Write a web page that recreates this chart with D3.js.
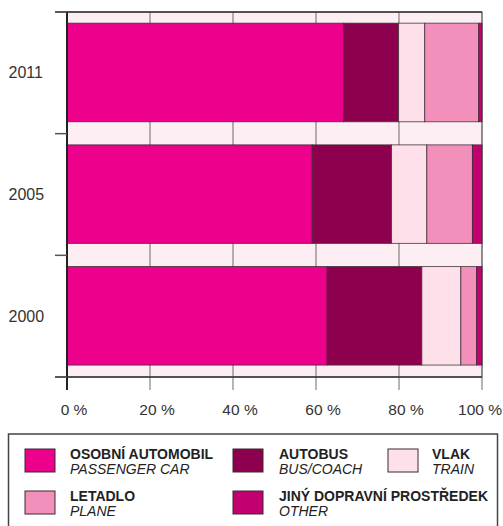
<!DOCTYPE html>
<html><head><meta charset="utf-8">
<script src="https://cdn.jsdelivr.net/npm/d3@7"></script>
<style>body{margin:0;background:#fff;}svg{display:block;font-family:"Liberation Sans",Arial,Helvetica,sans-serif;}</style>
</head><body>
<svg id="c" width="503" height="526"></svg>
<script>
const years = ["2011", "2005", "2000"];
const seriesKeys = ["car", "bus", "train", "plane", "other"];
const seriesCz = ["OSOBNÍ AUTOMOBIL", "AUTOBUS", "VLAK", "LETADLO", "JINÝ DOPRAVNÍ PROSTŘEDEK"];
const seriesEn = ["PASSENGER CAR", "BUS/COACH", "TRAIN", "PLANE", "OTHER"];
const car   = [66.7, 59.1, 62.7];
const bus   = [13.2, 19.1, 22.8];
const train = [6.3, 8.5, 9.4];
const plane = [13.0, 11.0, 3.8];
const other = [0.8, 2.3, 1.3];
const xTicks = [0, 20, 40, 60, 80, 100];
const xTickLabels = ["0 %", "20 %", "40 %", "60 %", "80 %", "100 %"];
const colors = ["#ec008c", "#8c004e", "#fde0ea", "#f290bb", "#c3006f"];

const rows = years.map((y, i) => ({year: y, car: car[i], bus: bus[i], train: train[i], plane: plane[i], other: other[i]}));
const stacked = d3.stack().keys(seriesKeys)(rows);

const svg = d3.select("#c");
const x = d3.scaleLinear().domain([0, 100]).range([67, 482]);
const y = d3.scaleBand().domain(years).range([12, 377]).padding(0);
const bw = y.bandwidth();

// background
svg.append("rect").attr("x", x(0)).attr("y", 12).attr("width", x(100) - x(0)).attr("height", 365)
  .attr("fill", "#fdeef4").attr("stroke", "#666").attr("stroke-width", 1);
// grid
svg.append("g").selectAll("line").data(xTicks).join("line")
  .attr("x1", d => x(d)).attr("x2", d => x(d)).attr("y1", 12).attr("y2", 390)
  .attr("stroke", "#6a6a6a").attr("stroke-width", 1);

// bars
svg.append("g").selectAll("g").data(stacked).join("g")
  .attr("fill", (d, i) => colors[i])
  .selectAll("rect").data(d => d).join("rect")
  .attr("x", d => x(d[0])).attr("width", d => x(d[1]) - x(d[0]))
  .attr("y", d => y(d.data.year) + bw * 0.092).attr("height", bw * 0.81)
  .attr("stroke", "#3a2a30").attr("stroke-opacity", 0.75).attr("stroke-width", 1);

// axes lines
svg.append("line").attr("x1", 55).attr("x2", 482).attr("y1", 12).attr("y2", 12).attr("stroke", "#333").attr("stroke-width", 1.5);
svg.append("line").attr("x1", 55).attr("x2", 482).attr("y1", 377).attr("y2", 377).attr("stroke", "#333").attr("stroke-width", 1.5);
svg.append("line").attr("x1", 67).attr("x2", 67).attr("y1", 12).attr("y2", 390).attr("stroke", "#222").attr("stroke-width", 2);
// left ticks at band boundaries
const bounds = years.map(d => y(d)).concat([y(years[years.length - 1]) + bw]);
svg.append("g").selectAll("line").data(bounds).join("line")
  .attr("x1", 55).attr("x2", 67).attr("y1", d => d).attr("y2", d => d)
  .attr("stroke", "#555").attr("stroke-width", 1.5);

// y labels
svg.append("g").selectAll("text").data(years).join("text")
  .attr("x", 8.5).attr("y", d => y(d) + bw / 2).attr("dy", "0.35em")
  .attr("font-size", 16).attr("fill", "#333").text(d => d);

// x labels
svg.append("g").selectAll("text").data(xTicks).join("text")
  .attr("x", (d, i) => Math.min(x(d) + 7, 480))
  .attr("y", 415).attr("text-anchor", "middle")
  .attr("font-size", 15.5).attr("fill", "#333").text((d, i) => xTickLabels[i]);

// legend
svg.append("rect").attr("x", 8.5).attr("y", 434).attr("width", 489).attr("height", 100)
  .attr("fill", "#fff").attr("stroke", "#444").attr("stroke-width", 1.5);
const legPos = [[25, 449], [233, 449], [388, 449], [25, 491], [233, 491]];
const legTextX = [70, 279, 432, 70, 279];
const lg = svg.append("g").selectAll("g").data(seriesKeys).join("g");
lg.append("rect").attr("x", (d, i) => legPos[i][0]).attr("y", (d, i) => legPos[i][1])
  .attr("width", 30).attr("height", 23).attr("fill", (d, i) => colors[i])
  .attr("stroke", "#3a2a30").attr("stroke-width", 1);
lg.append("text").attr("x", (d, i) => legTextX[i]).attr("y", (d, i) => legPos[i][1] + 9.5)
  .attr("font-size", 14).attr("font-weight", "bold").attr("fill", "#222").text((d, i) => seriesCz[i]);
lg.append("text").attr("x", (d, i) => legTextX[i]).attr("y", (d, i) => legPos[i][1] + 25)
  .attr("font-size", 14).attr("font-style", "italic").attr("fill", "#222").text((d, i) => seriesEn[i]);
</script>
</body></html>
